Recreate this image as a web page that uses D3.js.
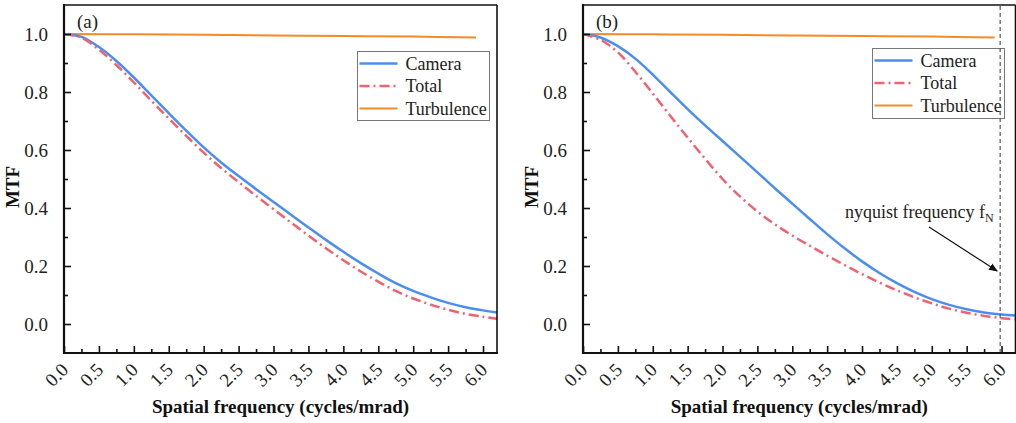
<!DOCTYPE html>
<html><head><meta charset="utf-8">
<script src="https://cdn.jsdelivr.net/npm/d3@7"></script>
<style>body{margin:0;background:#fff}svg{display:block}text{font-family:"Liberation Serif","Times New Roman",serif;}</style>
</head><body>
<svg id="c" width="1016" height="423"></svg>
<script>
const freq = [0,0.25,0.5,0.75,1.0,1.25,1.5,1.75,2.0,2.25,2.5,2.75,3.0,3.25,3.5,3.75,4.0,4.25,4.5,4.75,5.0,5.25,5.5,5.75,6.0,6.2];
const cameraA = [1.0,0.99,0.955,0.907,0.85,0.788,0.727,0.667,0.609,0.557,0.51,0.465,0.421,0.377,0.333,0.29,0.249,0.21,0.174,0.141,0.114,0.092,0.073,0.058,0.047,0.04];
const totalA  = [1.0,0.987,0.946,0.893,0.833,0.770,0.709,0.649,0.591,0.538,0.489,0.442,0.396,0.350,0.305,0.261,0.220,0.181,0.146,0.114,0.088,0.067,0.049,0.035,0.025,0.018];
const cameraB = [1.0,0.988,0.958,0.915,0.86,0.80,0.741,0.685,0.631,0.577,0.523,0.468,0.415,0.362,0.310,0.261,0.216,0.176,0.141,0.111,0.086,0.066,0.051,0.040,0.033,0.029];
const totalB  = [1.0,0.980,0.937,0.870,0.795,0.718,0.643,0.570,0.50,0.440,0.388,0.344,0.305,0.270,0.236,0.203,0.172,0.143,0.116,0.092,0.071,0.053,0.039,0.028,0.020,0.016];
const turbFreq = [0,1,2,3,4,5,5.9];
const turbA = [1.0,0.999,0.997,0.995,0.993,0.991,0.988];
const turbB = [1.0,0.999,0.997,0.995,0.993,0.991,0.988];
const xTicks = [0,0.5,1,1.5,2,2.5,3,3.5,4,4.5,5,5.5,6];
const yTicks = [0,0.2,0.4,0.6,0.8,1.0];
const seriesNames = ["Camera","Total","Turbulence"];
const nyquist = 5.98;

const colors = {Camera:"#4a8ff0", Total:"#f2616f", Turbulence:"#f58a26"};
const dashes = {Camera:null, Total:"10,4,2,4", Turbulence:null};
const widths = {Camera:2.5, Total:2.5, Turbulence:2};

const svg = d3.select("#c");
const y = d3.scaleLinear().domain([-0.1,1.1]).range([353,5]);

function panel(cfg){
  const x = d3.scaleLinear().domain([0,6.2]).range([cfg.left, cfg.right]);
  const g = svg.append("g");
  const line = d3.line().x(d=>x(d[0])).y(d=>y(d[1])).curve(d3.curveCatmullRom.alpha(0.5));
  const data = {
    Turbulence: turbFreq.map((f,i)=>[f,cfg.turb[i]]),
    Camera: freq.map((f,i)=>[f,cfg.cam[i]]),
    Total: freq.map((f,i)=>[f,cfg.tot[i]])
  };
  ["Turbulence","Camera","Total"].forEach(k=>{
    g.append("path").attr("d",line(data[k])).attr("fill","none")
      .attr("stroke",colors[k]).attr("stroke-width",widths[k])
      .attr("stroke-dasharray",dashes[k]);
  });
  g.append("line").attr("x1",cfg.left).attr("x2",cfg.right).attr("y1",5).attr("y2",5).attr("stroke","#111").attr("stroke-width",1.6);
  g.append("line").attr("x1",cfg.right).attr("x2",cfg.right).attr("y1",5).attr("y2",353).attr("stroke","#111").attr("stroke-width",1.6);
  const ya = d3.axisLeft(y).tickValues(yTicks).tickSizeInner(-7).tickSizeOuter(0).tickPadding(16).tickFormat(d3.format(".1f"));
  const yg = g.append("g").attr("transform",`translate(${cfg.left},0)`).call(ya);
  yg.select(".domain").remove();
  yg.selectAll(".tick line").attr("stroke","#111").attr("stroke-width",1.6);
  yg.selectAll("text").attr("font-size",19).attr("fill","#222").attr("font-family","Liberation Serif");
  const ym = d3.axisLeft(y).tickValues([0.1,0.3,0.5,0.7,0.9]).tickSizeInner(-4).tickSizeOuter(0).tickFormat("");
  const ymg = g.append("g").attr("transform",`translate(${cfg.left},0)`).call(ym);
  ymg.select(".domain").remove();
  ymg.selectAll(".tick line").attr("stroke","#111").attr("stroke-width",1.6);
  const xa = d3.axisBottom(x).tickValues(xTicks).tickSizeInner(-7).tickSizeOuter(0).tickFormat(d3.format(".1f"));
  const xg = g.append("g").attr("transform","translate(0,353)").call(xa);
  xg.select(".domain").remove();
  xg.selectAll(".tick line").attr("stroke","#111").attr("stroke-width",1.6);
  xg.selectAll("text").attr("font-size",19).attr("fill","#222").attr("font-family","Liberation Serif")
    .attr("text-anchor","end").attr("dy",0).attr("y",0)
    .attr("transform","translate(5,18) rotate(-45)");
  const xm = d3.axisBottom(x).tickValues(d3.range(0.25,6.0,0.5)).tickSizeInner(-4).tickSizeOuter(0).tickFormat("");
  const xmg = g.append("g").attr("transform","translate(0,353)").call(xm);
  xmg.select(".domain").remove();
  xmg.selectAll(".tick line").attr("stroke","#111").attr("stroke-width",1.6);
  g.append("line").attr("x1",cfg.left).attr("x2",cfg.left).attr("y1",4).attr("y2",354).attr("stroke","#111").attr("stroke-width",2.2);
  g.append("line").attr("x1",cfg.left-1).attr("x2",cfg.right+1).attr("y1",353).attr("y2",353).attr("stroke","#111").attr("stroke-width",2.2);
  g.append("text").attr("x",(cfg.left+cfg.right)/2).attr("y",413).attr("text-anchor","middle")
    .attr("font-weight","bold").attr("font-size",19).attr("fill","#111").text("Spatial frequency (cycles/mrad)");
  g.append("text").attr("transform",`translate(${cfg.left-45},187) rotate(-90)`).attr("text-anchor","middle")
    .attr("font-weight","bold").attr("font-size",19).attr("fill","#111").text("MTF");
  g.append("text").attr("x",cfg.left+13).attr("y",28).attr("font-size",19).attr("fill","#222").text(cfg.label);
  const L = cfg.legend;
  g.append("rect").attr("x",L.x).attr("y",L.y).attr("width",L.w).attr("height",L.h)
    .attr("fill","#fff").attr("stroke","#777").attr("stroke-width",1);
  seriesNames.forEach((k,i)=>{
    const yy = L.y + 12 + i*22.5;
    g.append("line").attr("x1",L.x+2).attr("x2",L.x+40).attr("y1",yy).attr("y2",yy)
      .attr("stroke",colors[k]).attr("stroke-width",widths[k]).attr("stroke-dasharray",dashes[k]);
    g.append("text").attr("x",L.x+48).attr("y",yy+6).attr("font-size",18).attr("fill","#222").text(k);
  });
  return x;
}

panel({left:64,right:497,cam:cameraA,tot:totalA,turb:turbA,label:"(a)",legend:{x:357.5,y:51.5,w:132,h:69}});
const xb = panel({left:583,right:1015.5,cam:cameraB,tot:totalB,turb:turbB,label:"(b)",legend:{x:872.5,y:48.5,w:132,h:70}});

svg.append("line").attr("x1",xb(nyquist)).attr("x2",xb(nyquist)).attr("y1",6).attr("y2",352)
  .attr("stroke","#555").attr("stroke-width",1.2).attr("stroke-dasharray","4,3");
svg.append("defs").append("marker").attr("id","ah").attr("viewBox","0 0 10 10").attr("refX",9).attr("refY",5)
  .attr("markerWidth",9).attr("markerHeight",9).attr("orient","auto").attr("markerUnits","userSpaceOnUse")
  .append("path").attr("d","M0,1 L10,5 L0,9 Z").attr("fill","#111");
svg.append("line").attr("x1",929).attr("y1",227).attr("x2",xb(nyquist)-3).attr("y2",271)
  .attr("stroke","#111").attr("stroke-width",1.2).attr("marker-end","url(#ah)");
const t = svg.append("text").attr("x",845).attr("y",218).attr("font-size",18).attr("fill","#222");
t.append("tspan").text("nyquist frequency f");
t.append("tspan").attr("font-size",12).attr("dy",4).text("N");
</script>
</body></html>
